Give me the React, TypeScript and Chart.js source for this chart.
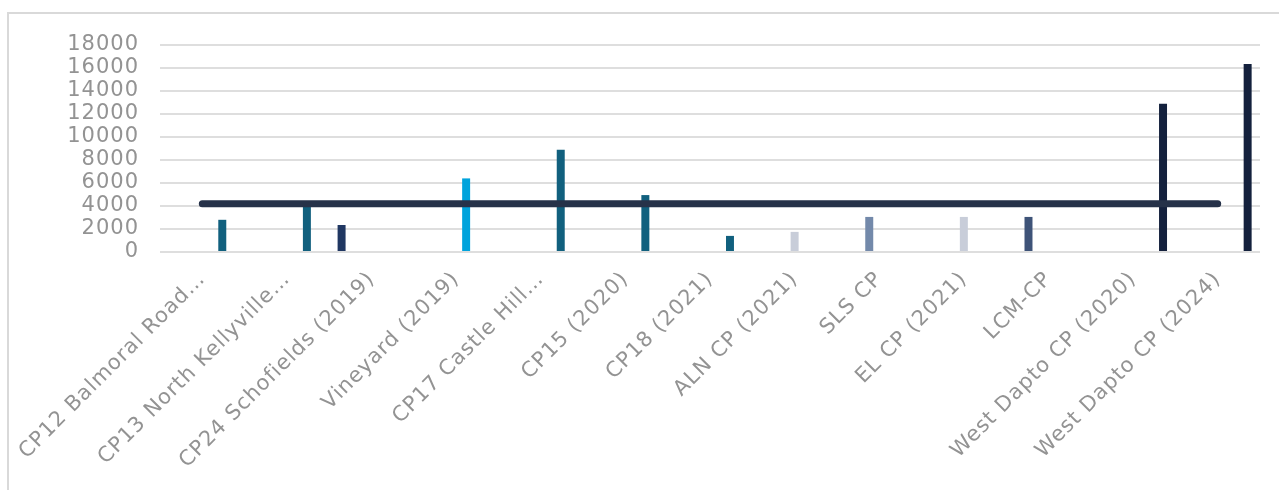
import React, { useEffect, useRef } from "react";
import { Chart, registerables } from "chart.js";

Chart.register(...registerables);

// Contribution plans along the category axis
const categories: string[] = [
  "CP12 Balmoral Road…",
  "CP13 North Kellyville…",
  "CP24 Schofields (2019)",
  "Vineyard (2019)",
  "CP17 Castle Hill…",
  "CP15 (2020)",
  "CP18 (2021)",
  "ALN CP (2021)",
  "SLS CP",
  "EL CP (2021)",
  "LCM-CP",
  "West Dapto CP (2020)",
  "West Dapto CP (2024)",
];

// One series per colour group; null where the plan belongs to another group
const schofieldsValues = [null, null, 2350, null, null, null, null, null, null, null, null, null, null];
const lcmValues = [null, null, null, null, null, null, null, null, null, null, 3050, null, null];
const slsValues = [null, null, null, null, null, null, null, null, 3050, null, null, null, null];
const alnElValues = [null, null, null, null, null, null, null, 1750, null, 3050, null, null, null];
const vineyardValues = [null, null, null, 6400, null, null, null, null, null, null, null, null, null];
const hillsValues = [2800, 4100, null, null, 8900, 4950, 1400, null, null, null, null, null, null];
const westDaptoValues = [null, null, null, null, null, null, null, null, null, null, null, 12900, 16350];

// Benchmark level drawn across every plan
const benchmarkValues = [4200, 4200, 4200, 4200, 4200, 4200, 4200, 4200, 4200, 4200, 4200, 4200, 4200];

const yMax = 18000;
const yStep = 2000;

const textColor = "#939393";
const gridColor = "#dedede";
const fontFamily = "'DejaVu Sans', 'Open Sans', sans-serif";

const spacingPlugin = {
  id: "letterSpacing",
  beforeUpdate(chart: any) {
    chart.ctx.letterSpacing = "1px";
  },
  beforeDraw(chart: any) {
    chart.ctx.letterSpacing = "1px";
  },
};

export default function App() {
  const canvasRef = useRef<HTMLCanvasElement | null>(null);

  useEffect(() => {
    if (!canvasRef.current) return;
    const barBase = { order: 1, categoryPercentage: 0.826, barPercentage: 0.8 };
    const chart = new Chart(canvasRef.current, {
      type: "bar",
      data: {
        labels: categories,
        datasets: [
          {
            type: "line",
            label: "Benchmark",
            data: benchmarkValues,
            borderColor: "#263249",
            borderWidth: 7,
            borderCapStyle: "round",
            pointRadius: 0,
            fill: false,
            order: 0,
          } as any,
          { ...barBase, label: "CP24", data: schofieldsValues, backgroundColor: "#203762" },
          { ...barBase, label: "LCM", data: lcmValues, backgroundColor: "#3e5378" },
          { ...barBase, label: "SLS", data: slsValues, backgroundColor: "#7389aa" },
          { ...barBase, label: "ALN / EL", data: alnElValues, backgroundColor: "#c8cdd9" },
          { ...barBase, label: "Vineyard", data: vineyardValues, backgroundColor: "#00a3dc" },
          { ...barBase, label: "Hills", data: hillsValues, backgroundColor: "#11607e" },
          { ...barBase, label: "West Dapto", data: westDaptoValues, backgroundColor: "#14213d" },
        ],
      },
      options: {
        responsive: false,
        animation: false,
        devicePixelRatio: 1,
        layout: { padding: { left: 0, right: 19, top: 45, bottom: 0 } },
        plugins: { legend: { display: false }, tooltip: { enabled: false } },
        scales: {
          x: {
            grid: { display: false, drawTicks: false },
            border: { display: false },
            ticks: {
              color: textColor,
              font: { family: fontFamily, size: 21 },
              maxRotation: 45,
              minRotation: 45,
              autoSkip: false,
              padding: 15,
              labelOffset: 0,
            },
            afterFit: (s: any) => {
              s.height = 238;
              s.paddingLeft = 0;
              s.paddingRight = 0;
            },
          },
          y: {
            min: 0,
            max: yMax,
            grid: { color: gridColor, lineWidth: 2, drawTicks: false },
            border: { display: false },
            ticks: {
              stepSize: yStep,
              autoSkip: false,
              color: textColor,
              font: { family: fontFamily, size: 21 },
              padding: 21,
              callback: (v: any) => String(v),
            },
            afterFit: (s: any) => {
              s.width = 160;
              s.paddingTop = 0;
              s.paddingBottom = 0;
            },
          },
        },
      },
      plugins: [spacingPlugin],
    });
    return () => chart.destroy();
  }, []);

  return (
    <div style={{ position: "absolute", left: 0, top: 0, width: 1279, height: 490, overflow: "hidden", background: "#ffffff" }}>
      <div
        style={{
          position: "absolute",
          left: 7,
          top: 12,
          width: 1272,
          height: 478,
          borderTop: "2px solid #d9d9d9",
          borderLeft: "2px solid #d9d9d9",
          boxSizing: "border-box",
        }}
      />
      <canvas ref={canvasRef} width={1279} height={490} style={{ position: "absolute", left: 0, top: 0 }} />
    </div>
  );
}
